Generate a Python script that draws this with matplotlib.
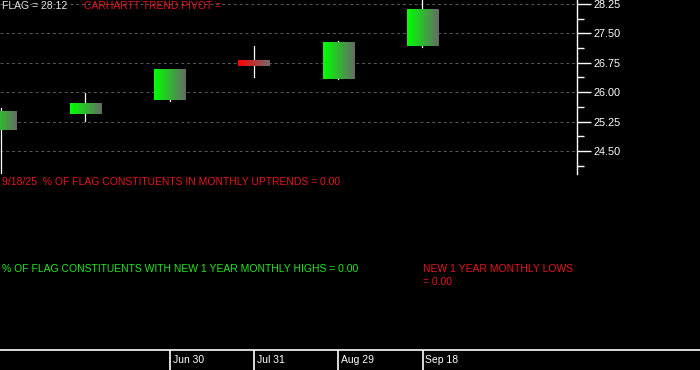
import numpy as np
import matplotlib
matplotlib.use("Agg")
import matplotlib.pyplot as plt
from matplotlib.ticker import FixedLocator, FormatStrFormatter

# ===============================
# DATA
# ===============================
opens = [25.04, 25.44, 25.80, 26.82, 26.34, 27.18]
closes = [25.52, 25.70, 26.57, 26.67, 27.28, 28.12]
highs = [25.60, 25.98, 26.58, 27.18, 27.30, 28.42]
lows = [23.85, 25.27, 25.78, 26.39, 26.33, 27.15]

date_pos = [2, 3, 4, 5]
date_labels = ["Jun 30", "Jul 31", "Aug 29", "Sep 18"]

yticks = [24.50, 25.25, 26.00, 26.75, 27.50, 28.25]

flag_value = 28.12
last_date = "9/18/25"
pct_uptrends = 0.00
pct_new_highs = 0.00
new_lows = 0.00

plt.rcParams['font.family'] = ['Liberation Sans', 'DejaVu Sans']

W, H = 700, 370
fig = plt.figure(figsize=(7, 3.7), dpi=100, facecolor="black")

# ===============================
# PRICE PANEL
# ===============================
ax = fig.add_axes([0, (H - 174) / H, 577 / W, 174 / H], facecolor="black")
ax.set_xlim(-0.012, 6.833)
ax.set_ylim(23.913, 28.352)

grid_col = "#5a5a5a"
for t in yticks:
    ax.axhline(t, color=grid_col, lw=0.7, ls=(0, (3, 3)), zorder=0)

body_w = 0.368
green_l = np.array([0.0, 1.0, 0.0])
green_r = np.array([0.40, 0.42, 0.40])
red_l = np.array([1.0, 0.0, 0.0])
red_r = np.array([0.45, 0.42, 0.42])

for i in range(len(opens)):
    o, c, h, l = opens[i], closes[i], highs[i], lows[i]
    ax.plot([i, i], [l, h], color="white", lw=0.9, zorder=2)
    if c >= o:
        cl, cr = green_l, green_r
    else:
        cl, cr = red_l, red_r
    frac = np.linspace(0, 1, 64)[None, :, None]
    grad = cl[None, None, :] * (1 - frac) + cr[None, None, :] * frac
    grad = np.repeat(grad, 2, axis=0)
    ax.imshow(grad, extent=(i - body_w / 2, i + body_w / 2, min(o, c), max(o, c)),
              aspect="auto", zorder=3, interpolation="bilinear")

ax.set_xlim(-0.012, 6.833)
ax.set_ylim(23.913, 28.352)

for s in ["top", "left", "bottom"]:
    ax.spines[s].set_visible(False)
ax.spines["right"].set_color("white")
ax.spines["right"].set_linewidth(1.0)
ax.set_xticks([])
ax.yaxis.tick_right()
ax.yaxis.set_major_locator(FixedLocator(yticks))
ax.yaxis.set_minor_locator(FixedLocator([t - 0.375 for t in yticks]))
ax.yaxis.set_major_formatter(FormatStrFormatter("%.2f"))
ax.tick_params(axis="y", which="major", length=10, width=1, color="white",
               labelcolor="white", labelsize=7.8, pad=2)
ax.tick_params(axis="y", which="minor", length=5, width=1, color="white")

# ===============================
# DATE AXIS
# ===============================
axd = fig.add_axes([0, 0, 1, 20 / H], facecolor="black")
axd.set_xlim(-0.012, (W - 1) / 84.3)
axd.set_ylim(0, 1)
for s in ["left", "right", "bottom"]:
    axd.spines[s].set_visible(False)
axd.spines["top"].set_color("white")
axd.spines["top"].set_linewidth(1.2)
axd.set_xticks([])
axd.set_yticks([])
for p, lab in zip(date_pos, date_labels):
    axd.axvline(p, color="white", lw=1.2)
    axd.text(p + 0.035, 0.5, lab, color="white", fontsize=7.5, va="center", ha="left")

# ===============================
# TEXT LABELS
# ===============================
def ftext(x, y, s, color):
    fig.text(x / W, 1 - y / H, s, color=color, fontsize=7.5, va="center", ha="left")

ftext(2, 6, "FLAG = %.2f" % flag_value, "#e6e6e6")
ftext(84, 6, "CARHARTT TREND PIVOT =", "#e8141c")
ftext(2, 182, "%s  %% OF FLAG CONSTITUENTS IN MONTHLY UPTRENDS = %.2f" % (last_date, pct_uptrends), "#e8141c")
ftext(2, 269, "%% OF FLAG CONSTITUENTS WITH NEW 1 YEAR MONTHLY HIGHS = %.2f" % pct_new_highs, "#1ee81e")
ftext(423, 269, "NEW 1 YEAR MONTHLY LOWS", "#e8141c")
ftext(423, 282, "= %.2f" % new_lows, "#e8141c")

fig.savefig("out.png", dpi=100, facecolor="black")
